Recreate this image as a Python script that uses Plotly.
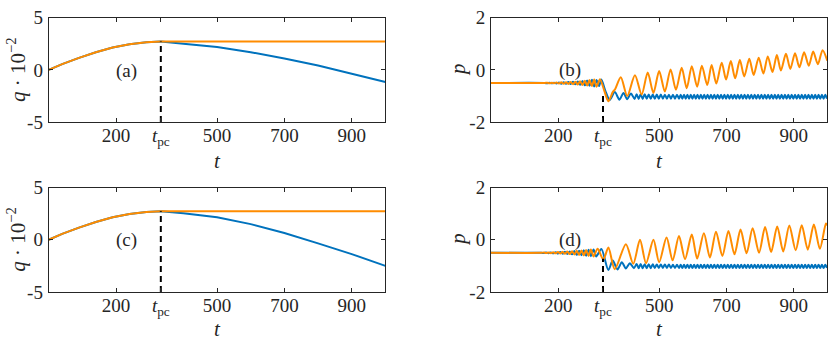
"""Four-panel q(t) / p(t) comparison around the transition time t_pc."""

import plotly.graph_objects as go

BLUE = "#0072BD"
ORANGE = "#FF8C00"
INK = "#262626"
FONT = "Liberation Serif"

T_PC = 333

# q panels (a), (c): shared rise up to t_pc, then split
T_RISE = [0, 40, 90, 140, 190, 240, 290, 333]
Q_RISE = [0.0, 0.56, 1.16, 1.7, 2.15, 2.46, 2.66, 2.72]
T_AFTER = [333, 400, 500, 600, 700, 800, 900, 1000]
Q_ORANGE_A = [2.72, 2.72, 2.71, 2.72, 2.71, 2.72, 2.71, 2.72]
Q_BLUE_A = [2.72, 2.52, 2.2, 1.7, 1.1, 0.42, -0.38, -1.15]
Q_ORANGE_C = [2.72, 2.73, 2.72, 2.72, 2.71, 2.72, 2.71, 2.72]
Q_BLUE_C = [2.72, 2.55, 2.15, 1.5, 0.65, -0.35, -1.38, -2.5]

# p panel (b)
T_ORANGE_B = [0, 160, 167, 174, 181, 188, 195, 202, 209, 216, 223, 230, 237, 244,
              251, 258, 265, 272, 279, 286, 293, 300, 307, 314, 324, 337, 349, 362,
              369, 386, 405, 428, 448, 466, 483, 500, 517, 534, 550, 567, 582, 597,
              613, 627, 643, 656, 670, 686, 699, 713, 726, 740, 753, 768, 781, 796,
              810, 823, 837, 850, 862, 877, 890, 904, 917, 931, 945, 958, 972, 986,
              1000]
P_ORANGE_B = [-0.5, -0.5, -0.49, -0.51, -0.49, -0.51, -0.48, -0.52, -0.475, -0.525,
              -0.47, -0.535, -0.46, -0.545, -0.45, -0.56, -0.43, -0.58, -0.41, -0.6,
              -0.39, -0.62, -0.37, -0.64, -0.36, -0.8, -1.2, -0.85, -0.74, -0.28, -1.0,
              -0.2, -0.94, -0.1, -0.88, -0.04, -0.83, 0.02, -0.76, 0.08, -0.7, 0.14,
              -0.64, 0.16, -0.58, 0.19, -0.52, 0.28, -0.37, 0.34, -0.32, 0.38, -0.25,
              0.43, -0.19, 0.47, -0.14, 0.52, -0.08, 0.57, -0.02, 0.62, 0.04, 0.64,
              0.10, 0.68, 0.16, 0.71, 0.22, 0.76, 0.36]
T_BLUE_B = [0, 160, 167, 174, 181, 188, 195, 202, 209, 216, 223, 230, 237, 244, 251,
            258, 265, 272, 279, 286, 293, 300, 307, 314, 321, 328, 340, 353, 368, 382,
            394, 405, 416, 427]
P_BLUE_B = [-0.5, -0.5, -0.51, -0.49, -0.51, -0.49, -0.52, -0.48, -0.525, -0.475,
            -0.53, -0.465, -0.54, -0.455, -0.55, -0.44, -0.57, -0.42, -0.59, -0.4,
            -0.61, -0.38, -0.63, -0.39, -0.62, -0.37, -0.8, -1.15, -0.85, -1.14, -0.88,
            -1.12, -0.9, -1.11]

# p panel (d)
T_ORANGE_D = [0, 150, 157, 164, 171, 178, 185, 192, 199, 206, 213, 220, 227, 234,
              241, 248, 255, 262, 269, 276, 283, 290, 297, 305, 317, 334, 349, 368,
              401, 423, 443, 461, 483, 500, 522, 540, 559, 577, 597, 613, 633, 651,
              669, 688, 706, 724, 742, 760, 778, 797, 815, 833, 851, 869, 887, 906,
              924, 942, 960, 978, 996, 1000]
P_ORANGE_D = [-0.5, -0.5, -0.49, -0.51, -0.485, -0.515, -0.48, -0.52, -0.47, -0.53,
              -0.465, -0.54, -0.455, -0.55, -0.44, -0.565, -0.42, -0.58, -0.41, -0.6,
              -0.39, -0.62, -0.37, -0.64, -0.35, -0.76, -0.3, -1.13, -0.17, -0.92, 0.0,
              -0.9, 0.0, -0.86, 0.09, -0.79, 0.14, -0.74, 0.2, -0.72, 0.25, -0.68,
              0.31, -0.62, 0.34, -0.56, 0.39, -0.52, 0.44, -0.5, 0.49, -0.47, 0.51,
              -0.45, 0.55, -0.4, 0.56, -0.38, 0.58, -0.35, 0.62, 0.55]
T_BLUE_D = [0, 150, 157, 164, 171, 178, 185, 192, 199, 206, 213, 220, 227, 234, 241,
            248, 255, 262, 269, 276, 283, 290, 297, 305, 313, 328, 349, 362, 376, 389,
            401, 413, 425]
P_BLUE_D = [-0.5, -0.5, -0.51, -0.49, -0.515, -0.485, -0.52, -0.48, -0.53, -0.47,
            -0.535, -0.46, -0.545, -0.45, -0.56, -0.435, -0.58, -0.42, -0.59, -0.4,
            -0.61, -0.38, -0.63, -0.37, -0.64, -0.35, -1.16, -0.8, -1.14, -0.86, -1.1,
            -0.9, -1.09]

# fast blue oscillation after the transition, shared time grid for (b) and (d)
T_BLUE_LATE = [433, 439, 445, 451, 457, 463, 469, 475, 481, 487, 493, 499, 505, 511,
               517, 523, 529, 535, 541, 547, 553, 559,
               564, 569, 574, 579, 584, 589, 594, 599, 604, 609, 614, 619, 624, 629,
               634, 639, 644, 649, 654, 659, 664, 669, 674, 679, 684, 689, 694, 699,
               704, 709, 714, 719, 724, 729, 734, 739, 744, 749, 754, 759, 764, 769,
               774, 779, 784, 789, 794, 799, 804, 809, 814, 819, 824, 829, 834, 839,
               844, 849, 854, 859, 864, 869, 874, 879, 884, 889, 894, 899, 904, 909,
               914, 919, 924, 929, 934, 939, 944, 949, 954, 959, 964, 969, 974, 979,
               984, 989, 994, 999]
P_BLUE_B_LATE = [-0.93, -1.11, -0.93, -1.11, -0.93, -1.10, -0.94, -1.10, -0.94, -1.10,
                 -0.94, -1.10, -0.94, -1.10, -0.95, -1.10, -0.95, -1.10, -0.95, -1.10,
                 -0.95, -1.10,
                 -0.95, -1.10, -0.95, -1.10, -0.95, -1.10, -0.95, -1.10,
                 -0.95, -1.10, -0.95, -1.10, -0.95, -1.10, -0.95, -1.10,
                 -0.95, -1.10, -0.95, -1.10, -0.95, -1.10, -0.95, -1.10,
                 -0.95, -1.10, -0.95, -1.10, -0.95, -1.10, -0.95, -1.10,
                 -0.95, -1.10, -0.95, -1.10, -0.95, -1.10, -0.95, -1.10,
                 -0.95, -1.10, -0.95, -1.10, -0.95, -1.10, -0.95, -1.10,
                 -0.95, -1.10, -0.95, -1.10, -0.95, -1.10, -0.95, -1.10,
                 -0.95, -1.10, -0.95, -1.10, -0.95, -1.10, -0.95, -1.10,
                 -0.95, -1.10, -0.95, -1.10, -0.95, -1.10, -0.95, -1.10,
                 -0.95, -1.10, -0.95, -1.10, -0.95, -1.10, -0.95, -1.10,
                 -0.95, -1.10, -0.95, -1.10, -0.95, -1.10, -0.95, -1.10]
P_BLUE_D_LATE = [-0.93, -1.09, -0.93, -1.09, -0.94, -1.09, -0.94, -1.09, -0.94, -1.08,
                 -0.95, -1.08, -0.95, -1.08, -0.95, -1.08, -0.95, -1.08, -0.96, -1.08,
                 -0.96, -1.08,
                 -0.96, -1.08, -0.96, -1.08, -0.96, -1.08, -0.96, -1.08,
                 -0.96, -1.08, -0.96, -1.08, -0.96, -1.08, -0.96, -1.08,
                 -0.96, -1.08, -0.96, -1.08, -0.96, -1.08, -0.96, -1.08,
                 -0.96, -1.08, -0.96, -1.08, -0.96, -1.08, -0.96, -1.08,
                 -0.96, -1.08, -0.96, -1.08, -0.96, -1.08, -0.96, -1.08,
                 -0.96, -1.08, -0.96, -1.08, -0.96, -1.08, -0.96, -1.08,
                 -0.96, -1.08, -0.96, -1.08, -0.96, -1.08, -0.96, -1.08,
                 -0.96, -1.08, -0.96, -1.08, -0.96, -1.08, -0.96, -1.08,
                 -0.96, -1.08, -0.96, -1.08, -0.96, -1.08, -0.96, -1.08,
                 -0.96, -1.08, -0.96, -1.08, -0.96, -1.08, -0.96, -1.08,
                 -0.96, -1.08, -0.96, -1.08, -0.96, -1.08, -0.96, -1.08]

# height the dashed t_pc marker reaches in each panel
DASH_TOP_A = 2.72
DASH_TOP_B = -0.85
DASH_TOP_C = 2.72
DASH_TOP_D = -0.73

X_TICKS = [200, T_PC, 500, 700, 900]
X_TICKTEXT = ["200", "<i>t</i><sub>pc</sub>", "500", "700", "900"]

W, H = 830, 348
LEFT_X = [48.7 / W, 385.4 / W]
RIGHT_X = [491 / W, 827.3 / W]
TOP_Y = [1 - 119.3 / H, 1 - 8.3 / H]
BOTTOM_Y = [1 - 300 / H, 1 - 189 / H]


def axis_style(**extra):
    style = dict(
        showline=True, linecolor=INK, linewidth=1, mirror="ticks",
        ticks="inside", ticklen=4, tickcolor=INK, showgrid=False, zeroline=False,
        tickfont=dict(family=FONT, size=19, color=INK),
    )
    style.update(extra)
    return style


fig = go.Figure()

panels = [
    # suffix, domains, range, ticks, curves, dash top, label, label position
    ("", LEFT_X, TOP_Y, [-5, 5], [-5, 0, 5],
     [(T_RISE + T_AFTER[1:], Q_RISE + Q_BLUE_A[1:], BLUE, "linear"),
      (T_RISE + T_AFTER[1:], Q_RISE + Q_ORANGE_A[1:], ORANGE, "linear")],
     DASH_TOP_A, "(a)", (232, -0.1)),
    ("2", RIGHT_X, TOP_Y, [-2, 2], [-2, 0, 2],
     [(T_BLUE_B + T_BLUE_LATE, P_BLUE_B + P_BLUE_B_LATE, BLUE, "spline"),
      (T_ORANGE_B, P_ORANGE_B, ORANGE, "spline")],
     DASH_TOP_B, "(b)", (235, 0.0)),
    ("3", LEFT_X, BOTTOM_Y, [-5, 5], [-5, 0, 5],
     [(T_RISE + T_AFTER[1:], Q_RISE + Q_BLUE_C[1:], BLUE, "linear"),
      (T_RISE + T_AFTER[1:], Q_RISE + Q_ORANGE_C[1:], ORANGE, "linear")],
     DASH_TOP_C, "(c)", (232, -0.05)),
    ("4", RIGHT_X, BOTTOM_Y, [-2, 2], [-2, 0, 2],
     [(T_BLUE_D + T_BLUE_LATE, P_BLUE_D + P_BLUE_D_LATE, BLUE, "spline"),
      (T_ORANGE_D, P_ORANGE_D, ORANGE, "spline")],
     DASH_TOP_D, "(d)", (235, 0.0)),
]

for suffix, x_dom, y_dom, y_range, y_ticks, curves, dash_top, label, label_at in panels:
    xref, yref = "x" + suffix, "y" + suffix
    for t_values, values, color, shape in curves:
        fig.add_trace(go.Scatter(
            x=t_values, y=values, mode="lines", xaxis=xref, yaxis=yref,
            line=dict(color=color, width=2, shape=shape, smoothing=0.8),
            showlegend=False, hoverinfo="skip",
        ))
    fig.add_trace(go.Scatter(
        x=[T_PC, T_PC], y=[y_range[0], dash_top], mode="lines", xaxis=xref, yaxis=yref,
        line=dict(color="black", width=2, dash="6px,4px"), showlegend=False,
        hoverinfo="skip",
    ))
    fig.add_annotation(
        x=label_at[0], y=label_at[1], xref=xref, yref=yref, text=label,
        showarrow=False, font=dict(family=FONT, size=19, color=INK),
    )
    fig.layout["xaxis" + suffix] = axis_style(
        domain=x_dom, range=[0, 1000], anchor=yref, tickvals=X_TICKS,
        ticktext=X_TICKTEXT, ticklabelstandoff=-4,
    )
    fig.layout["yaxis" + suffix] = axis_style(
        domain=y_dom, range=y_range, anchor=xref, tickvals=y_ticks,
        ticktext=[str(v) for v in y_ticks], ticklabelstandoff=1,
    )

# axis titles
title_font = dict(family=FONT, size=21, color=INK)
for x_dom in (LEFT_X, RIGHT_X):
    for y_pos in (1 - 161 / H, 1 - 340 / H):
        fig.add_annotation(
            x=sum(x_dom) / 2, y=y_pos, xref="paper", yref="paper", text="<i>t</i>",
            showarrow=False, font=title_font, xanchor="center", yanchor="middle",
        )
for y_dom in (TOP_Y, BOTTOM_Y):
    fig.add_annotation(
        x=17 / W, y=sum(y_dom) / 2, xref="paper", yref="paper",
        text="<i>q</i> · 10<sup>−2</sup>", textangle=-90, showarrow=False,
        font=title_font, xanchor="center", yanchor="middle",
    )
    fig.add_annotation(
        x=458 / W, y=sum(y_dom) / 2, xref="paper", yref="paper", text="<i>p</i>",
        textangle=-90, showarrow=False, font=title_font,
        xanchor="center", yanchor="middle",
    )

fig.update_layout(
    width=W, height=H, margin=dict(l=0, r=0, t=0, b=0),
    paper_bgcolor="white", plot_bgcolor="white",
)

# the page's default body margin would push the figure off its frame
fig.write_html(
    "out.html",
    config={"displayModeBar": False},
    post_script="document.body.style.margin = '0';",
)
